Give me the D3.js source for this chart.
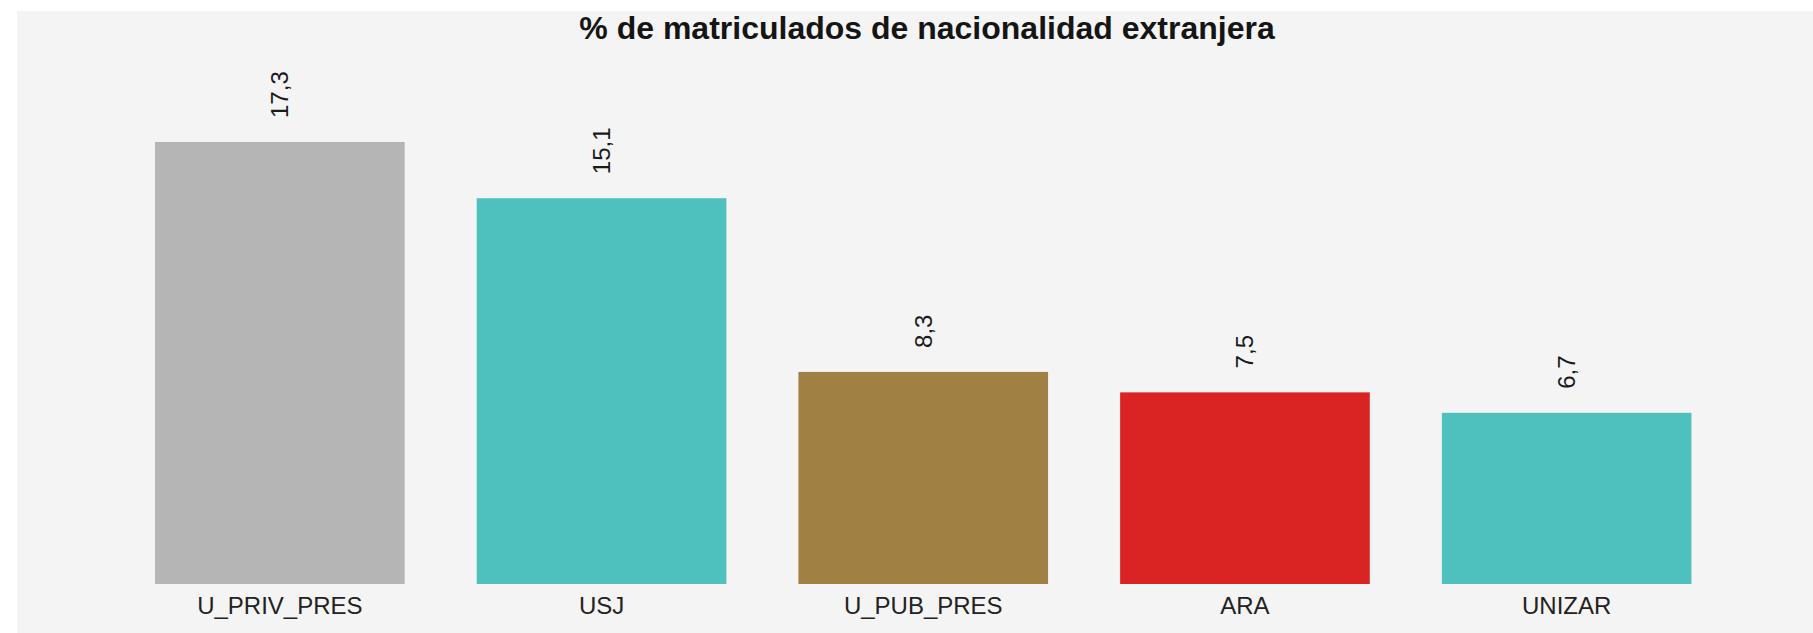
<!DOCTYPE html>
<html>
<head>
<meta charset="utf-8">
<script src="https://cdn.jsdelivr.net/npm/d3@7"></script>
<style>
  html, body { margin: 0; padding: 0; background: #ffffff; overflow: hidden; }
  svg { display: block; }
  text { font-family: "Liberation Sans", Arial, sans-serif; }
</style>
</head>
<body>
<svg id="chart" width="1813" height="633"></svg>
<script>
const categories = ["U_PRIV_PRES", "USJ", "U_PUB_PRES", "ARA", "UNIZAR"];
const values = [17.3, 15.1, 8.3, 7.5, 6.7];
const barColors = ["#b5b5b5", "#4ec1be", "#a18043", "#da2424", "#4ec1be"];
const titleText = "% de matriculados de nacionalidad extranjera";
const yMax = 20;

const W = 1813, H = 633;
const svg = d3.select("#chart");

// panel background
svg.append("rect")
  .attr("x", 17).attr("y", 11)
  .attr("width", W - 17).attr("height", H - 11)
  .attr("fill", "#f4f4f4");

const x = d3.scaleBand()
  .domain(categories)
  .range([119, 1727.5])
  .paddingInner(0.224)
  .paddingOuter(0.112);

const baseY = 584;
const y = d3.scaleLinear()
  .domain([0, yMax])
  .range([baseY, baseY - 25.55 * yMax]);

const fmt = v => d3.format(".1f")(v).replace(".", ",");

// bars
svg.append("g").selectAll("rect")
  .data(categories)
  .join("rect")
  .attr("x", d => x(d))
  .attr("y", (d, i) => y(values[i]))
  .attr("width", x.bandwidth())
  .attr("height", (d, i) => y(0) - y(values[i]))
  .attr("fill", (d, i) => barColors[i]);

// value labels (rotated)
svg.append("g").selectAll("text")
  .data(categories)
  .join("text")
  .attr("transform", (d, i) => `translate(${x(d) + x.bandwidth() / 2},${y(values[i]) - 24}) rotate(-90)`)
  .attr("dy", "0.35em")
  .attr("text-anchor", "start")
  .attr("font-size", 24)
  .attr("fill", "#1a1a1a")
  .text((d, i) => fmt(values[i]));

// x axis
const xAxis = svg.append("g")
  .attr("transform", `translate(0,${baseY})`)
  .call(d3.axisBottom(x).tickSize(0).tickPadding(13));
xAxis.select(".domain").remove();
xAxis.selectAll("text")
  .attr("font-family", "Liberation Sans, Arial, sans-serif")
  .attr("font-size", 24)
  .attr("fill", "#222")
  .attr("dy", "0.71em");

// title
svg.append("text")
  .attr("x", 927)
  .attr("y", 39)
  .attr("text-anchor", "middle")
  .attr("font-size", 32)
  .attr("font-weight", "bold")
  .attr("fill", "#151515")
  .text(titleText);
</script>
</body>
</html>
